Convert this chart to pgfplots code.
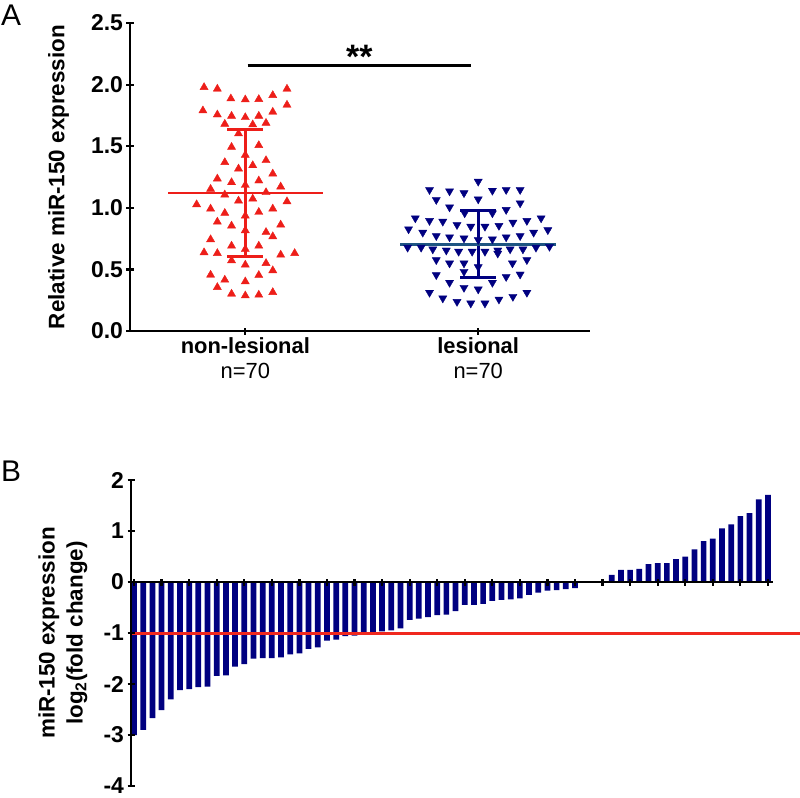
\documentclass[border=0pt]{standalone}
\usepackage{fontspec}
\setmainfont{Liberation Sans}
\usepackage{pgfplots}
\usepackage{pgfplotstable}
\pgfplotsset{compat=1.18}

\definecolor{ptred}{RGB}{237,30,25}
\definecolor{ptnavy}{RGB}{0,0,128}
\definecolor{meanblue}{RGB}{30,85,130}
\definecolor{lnred}{RGB}{240,40,30}

% panel A: jitter offset (category units) and relative expression
\pgfplotstableread{
dx y
-0.177 1.978
-0.120 1.965
0.179 1.965
-0.062 1.886
0.000 1.878
0.058 1.881
0.118 1.913
-0.182 1.789
0.179 1.835
-0.120 1.756
-0.059 1.745
0.000 1.734
0.058 1.745
0.118 1.778
-0.088 1.680
0.032 1.675
0.089 1.688
-0.029 1.602
-0.059 1.493
0.058 1.507
0.000 1.428
-0.088 1.369
0.032 1.344
-0.029 1.317
0.089 1.385
-0.120 1.236
-0.059 1.206
0.000 1.184
0.058 1.220
0.118 1.276
-0.149 1.152
0.152 1.171
-0.088 1.106
0.089 1.125
-0.209 1.027
-0.029 1.057
0.032 1.073
0.179 1.051
-0.149 0.992
-0.088 0.957
0.000 0.935
0.058 0.965
0.118 0.992
-0.120 0.886
-0.059 0.854
0.152 0.862
0.000 0.816
-0.149 0.743
0.089 0.802
0.118 0.767
-0.177 0.637
-0.120 0.631
-0.059 0.691
0.000 0.664
0.058 0.691
0.152 0.618
0.212 0.631
-0.059 0.572
0.000 0.537
0.089 0.550
0.118 0.491
-0.149 0.455
-0.088 0.415
0.058 0.453
0.000 0.401
-0.120 0.355
-0.059 0.301
0.000 0.287
0.058 0.293
0.118 0.314
}\nonlesional

\pgfplotstableread{
dx y
0.000 1.214
-0.209 1.146
-0.123 1.135
-0.061 1.120
0.061 1.140
0.120 1.146
0.180 1.146
-0.180 1.065
0.000 1.070
0.180 1.038
-0.123 1.005
0.120 0.984
-0.058 0.957
0.061 0.957
-0.270 0.916
-0.209 0.895
-0.152 0.889
-0.091 0.862
-0.032 0.848
0.029 0.848
0.089 0.855
0.149 0.881
0.209 0.895
0.270 0.916
-0.299 0.827
-0.238 0.800
-0.180 0.772
-0.123 0.762
-0.061 0.753
0.000 0.740
0.061 0.745
0.120 0.762
0.180 0.772
0.238 0.800
0.299 0.820
-0.303 0.678
-0.245 0.678
-0.195 0.664
-0.137 0.655
-0.084 0.645
-0.026 0.645
0.029 0.645
0.084 0.655
0.137 0.664
0.192 0.664
0.248 0.678
0.306 0.685
-0.180 0.577
-0.123 0.550
-0.061 0.550
0.084 0.630
0.147 0.550
0.209 0.577
-0.180 0.455
-0.123 0.393
-0.061 0.482
0.061 0.393
0.120 0.440
0.180 0.460
-0.061 0.352
0.000 0.339
0.000 0.520
-0.209 0.312
-0.152 0.266
-0.091 0.238
-0.032 0.225
0.029 0.225
0.089 0.257
0.149 0.279
0.209 0.312
}\lesional

% panel B: log2 fold change per sample, sorted
\pgfplotstableread{
i v
1 -3.00
2 -2.90
3 -2.67
4 -2.51
5 -2.30
6 -2.12
7 -2.10
8 -2.06
9 -2.05
10 -1.84
11 -1.83
12 -1.66
13 -1.61
14 -1.50
15 -1.49
16 -1.49
17 -1.48
18 -1.42
19 -1.40
20 -1.31
21 -1.28
22 -1.15
23 -1.13
24 -1.06
25 -1.05
26 -1.03
27 -0.99
28 -0.97
29 -0.95
30 -0.91
31 -0.74
32 -0.72
33 -0.69
34 -0.65
35 -0.64
36 -0.57
37 -0.45
38 -0.45
39 -0.43
40 -0.37
41 -0.35
42 -0.34
43 -0.32
44 -0.25
45 -0.21
46 -0.17
47 -0.16
48 -0.14
49 -0.12
50 0
51 0
52 0
53 0.14
54 0.24
55 0.24
56 0.26
57 0.35
58 0.37
59 0.37
60 0.45
61 0.50
62 0.64
63 0.80
64 0.85
65 1.05
66 1.13
67 1.29
68 1.35
69 1.62
70 1.71
}\foldchange

\pgfplotsset{
  panel/.style={
    scale only axis,
    anchor=south west,
    every tick/.style={black, line width=2.2bp},
    tick align=outside,
    major tick length=7bp,
    tick label style={font=\fontsize{23}{25}\selectfont\bfseries},
    /pgf/number format/assume math mode=true,
  },
  nolinearrows/.style={
    axis line style={line width=2.5bp, -},
    x axis line style={-},
    y axis line style={-},
  },
}

\begin{document}
\begin{tikzpicture}
\useasboundingbox (0,0) rectangle (800bp,-798bp);

\node[anchor=base west, inner sep=0pt, font=\fontsize{30}{30}\selectfont] at (1bp,-25bp) {A};
\node[anchor=base west, inner sep=0pt, font=\fontsize{30}{30}\selectfont] at (1bp,-481bp) {B};

\begin{axis}[panel,
  at={(130bp,-331bp)}, width=460bp, height=308bp,
  xmin=-0.495, xmax=1.48, ymin=0, ymax=2.5,
  axis x line=bottom, axis y line=left, nolinearrows,
  xtick={0,1},
  xticklabels={{\textbf{non-lesional}\\\mdseries n=70},{\textbf{lesional}\\\mdseries n=70}},
  xticklabel style={align=center, font=\fontsize{22}{25}\selectfont},
  ytick={0,0.5,...,2.5},
  yticklabel style={/pgf/number format/.cd, fixed, fixed zerofill, precision=1},
  ylabel={Relative miR-150 expression},
  every axis y label/.style={at={(axis description cs:-0.155,0.5)}, rotate=90, anchor=center,
    font=\fontsize{22.5}{26}\selectfont\bfseries},
  clip=false,
]
\addplot[only marks, mark=triangle*, mark size=4.7pt, color=ptred]
  table[x expr=\thisrow{dx}, y=y] {\nonlesional};
\addplot[only marks, mark=triangle*, mark size=4.7pt, color=ptnavy, mark options={rotate=180}]
  table[x expr=\thisrow{dx}+1, y=y] {\lesional};
% mean and SD, non-lesional
\addplot[ptred, line width=2.8bp] coordinates {(-0.331,1.12) (0.332,1.12)};
\addplot[ptred, line width=2.8bp] coordinates {(0,0.604) (0,1.634)};
\addplot[ptred, line width=2.8bp] coordinates {(-0.078,1.634) (0.078,1.634)};
\addplot[ptred, line width=2.8bp] coordinates {(-0.078,0.604) (0.078,0.604)};
% mean and SD, lesional
\addplot[ptnavy, line width=2.8bp] coordinates {(1,0.433) (1,0.976)};
\addplot[ptnavy, line width=2.8bp] coordinates {(0.922,0.976) (1.078,0.976)};
\addplot[ptnavy, line width=2.8bp] coordinates {(0.922,0.433) (1.078,0.433)};
\addplot[meanblue, line width=2.8bp] coordinates {(0.666,0.705) (1.334,0.705)};
% significance bar
\addplot[black, line width=2.7bp] coordinates {(0.01,2.157) (0.97,2.157)};
\node[anchor=base, font=\fontsize{34}{34}\selectfont\bfseries] at (axis cs:0.49,2.13) {**};
\end{axis}

\begin{axis}[panel,
  at={(131bp,-786bp)}, width=642bp, height=306bp,
  xmin=0.67, xmax=70.55, ymin=-4, ymax=2,
  axis x line=middle, axis y line=left, nolinearrows,
  xtick={1,4,...,70}, xticklabels={},
  ytick={-4,...,2},
  ylabel={miR-150 expression\\log\textsubscript{2}(fold change)},
  every axis y label/.style={at={(axis description cs:-0.106,0.5)}, rotate=90, anchor=center,
    align=center, font=\fontsize{22.5}{28}\selectfont\bfseries},
  axis on top,
  clip=false,
]
\addplot[ybar, bar width=0.62, fill=ptnavy, draw=none] table[x=i, y=v] {\foldchange};
\addplot[lnred, line width=3bp] coordinates {(0.67,-1) (73.5,-1)};
\end{axis}
\end{tikzpicture}
\end{document}
